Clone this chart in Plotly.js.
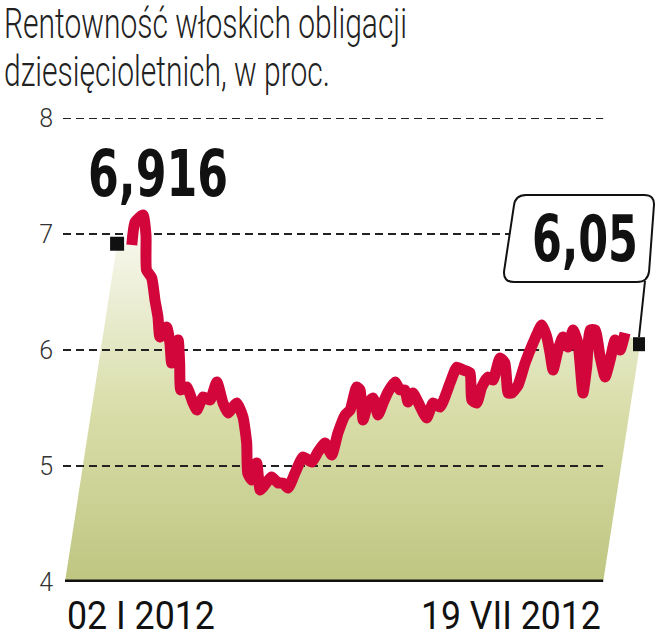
<!DOCTYPE html>
<html>
<head>
<meta charset="utf-8">
<script src="https://cdn.plot.ly/plotly-3.0.1.min.js"></script>
<style>html,body{margin:0;padding:0;background:#fff;}#chart{width:658px;height:640px;}</style>
</head>
<body>
<div id="chart"></div>
<script>
// ---- data (days since 02 I 2012, yield in %) ----
const tradingDay = [0.3,1.6,4.8,6.0,6.2,8.3,9.6,10.8,11.6,14.3,15.6,16.3,18.9,19.5,20.0,22.3,24.9,26.4,28.9,31.7,34.4,36.9,38.9,42.4,44.9,46.4,46.8,48.4,50.4,51.8,53.0,56.4,59.0,61.0,63.0,65.8,69.0,72.5,75.0,77.8,80.5,83.0,85.9,87.9,90.5,91.9,93.1,95.1,97.1,99.1,101.1,103.1,105.9,107.9,109.9,111.1,113.1,115.1,118.6,121.2,124.0,128.0,130.7,133.2,136.0,136.7,138.7,140.7,143.2,145.2,148.0,150.0,151.3,152.7,155.3,158.1,161.3,164.8,166.8,168.1,169.3,171.3,173.3,175.3,177.3,179.3,181.3,182.8,184.2,186.2,188.2,190.2,192.2,194.2,196.2,198.2];
const yieldPct = [6.905,7.103,7.164,6.99,6.69,6.621,6.431,6.284,6.112,6.198,6.060,5.888,6.086,5.888,5.655,5.681,5.543,5.483,5.595,5.569,5.724,5.543,5.457,5.543,5.422,5.198,4.940,4.879,5.026,4.793,4.819,4.905,4.853,4.853,4.810,4.940,5.078,5.034,5.121,5.198,5.095,5.284,5.440,5.483,5.681,5.655,5.397,5.543,5.586,5.440,5.543,5.638,5.724,5.655,5.655,5.552,5.629,5.552,5.414,5.543,5.509,5.716,5.853,5.828,5.802,5.569,5.543,5.681,5.767,5.741,5.931,5.888,5.629,5.629,5.698,5.888,6.060,6.216,6.112,5.974,5.828,6.000,6.112,6.026,6.172,6.060,5.629,5.853,6.172,6.172,5.940,5.767,5.914,6.086,6.000,6.147];
const markerDay = [-5.6, 204.2];
const markerValue = [6.916, 6.05];
const markerText = ["6,916", "6,05"];
const baseDay = [-26.5, 189.4];      // perspective foot of the area
const yTicks = [4, 5, 6, 7, 8];
const xLabels = ["02 I 2012", "19 VII 2012"];
const titleLines = ["Rentowność włoskich obligacji", "dziesięcioletnich, w proc."];

// ---- layout helpers ----
const W = 658, H = 640, ML = 63, MR = 13, MT = 118, MB = 58;
const PW = W - ML - MR, PH = H - MT - MB;
const px = x => (x - ML) / PW;
const py = y => (H - MB - y) / PH;
const LIGHT = "Roboto, Lato, 'Open Sans', sans-serif";
const BOLD = "'DejaVu Sans Condensed', 'DejaVu Sans', sans-serif";

// area polygon
const areaX = [markerDay[0]].concat(tradingDay, [markerDay[1], baseDay[1], baseDay[0]]);
const areaY = [markerValue[0]].concat(yieldPct, [markerValue[1], yTicks[0], yTicks[0]]);

// grid lines
const gridX = [], gridY = [];
yTicks.slice(1).forEach(v => { gridX.push(-27.3, baseDay[1], null); gridY.push(v, v, null); });

const traces = [
  {x: areaX, y: areaY, type: 'scatter', mode: 'lines', fill: 'toself',
   line: {width: 0, color: 'rgba(0,0,0,0)'},
   fillgradient: {type: 'vertical', start: 4, stop: 7.2,
     colorscale: [[0, '#bec681'], [0.45, '#d8dda8'], [0.8, '#eef0da'], [1, '#fbfbf5']]},
   hoverinfo: 'skip', showlegend: false},
  {x: gridX, y: gridY, type: 'scatter', mode: 'lines',
   line: {color: '#222', width: 2, dash: '8px,5px'}, hoverinfo: 'skip', showlegend: false},
  {x: baseDay, y: [yTicks[0], yTicks[0]], type: 'scatter', mode: 'lines',
   line: {color: '#111', width: 5}, hoverinfo: 'skip', showlegend: false},
  {x: tradingDay, y: yieldPct, type: 'scatter', mode: 'lines',
   line: {color: '#d3063c', width: 11, shape: 'spline', smoothing: 0.5}, showlegend: false},
  {x: markerDay, y: markerValue, type: 'scatter', mode: 'markers',
   marker: {symbol: 'square', size: 14, color: '#111'}, showlegend: false}
];

// callout box (rounded, slanted)
function boxPath(pts, r) {
  const P = (x, y) => px(x) + ',' + py(y);
  const [tl, tr, br, bl] = pts;
  return 'M' + P(tl[0] + r, tl[1]) + ' L' + P(tr[0] - r, tr[1]) +
    ' Q' + P(tr[0], tr[1]) + ' ' + P(tr[0] - 0.1 * r, tr[1] + r) +
    ' L' + P(br[0] + 0.1 * r, br[1] - r) +
    ' Q' + P(br[0], br[1]) + ' ' + P(br[0] - r, br[1]) +
    ' L' + P(bl[0] + r, bl[1]) +
    ' Q' + P(bl[0], bl[1]) + ' ' + P(bl[0] + 0.1 * r, bl[1] - r) +
    ' L' + P(tl[0] - 0.1 * r, tl[1] + r) +
    ' Q' + P(tl[0], tl[1]) + ' ' + P(tl[0] + r, tl[1]) + ' Z';
}

// annotations, with target widths (px) for condensing
const annos = [
  {text: titleLines[0], xref: 'paper', yref: 'paper', x: px(2), y: py(23.5),
   xanchor: 'left', yanchor: 'middle', showarrow: false,
   font: {family: LIGHT, size: 42, weight: 300, color: '#222'}, _w: 403},
  {text: titleLines[1], xref: 'paper', yref: 'paper', x: px(2), y: py(71.5),
   xanchor: 'left', yanchor: 'middle', showarrow: false,
   font: {family: LIGHT, size: 42, weight: 300, color: '#222'}, _w: 326},
  {text: '<b>' + markerText[0] + '</b>', xref: 'paper', yref: 'paper', x: px(158), y: py(174),
   xanchor: 'center', yanchor: 'middle', showarrow: false,
   font: {family: BOLD, size: 64, color: '#111'}, _w: 140},
  {text: '<b>' + markerText[1] + '</b>', xref: 'paper', yref: 'paper', x: px(585), y: py(239),
   xanchor: 'center', yanchor: 'middle', showarrow: false,
   font: {family: BOLD, size: 64, color: '#111'}, _w: 106},
  {text: xLabels[0], xref: 'x', yref: 'paper', x: baseDay[0], y: py(616),
   xanchor: 'left', yanchor: 'middle', showarrow: false,
   font: {family: LIGHT, size: 39, color: '#111'}, _w: 148},
  {text: xLabels[1], xref: 'x', yref: 'paper', x: baseDay[1], y: py(616),
   xanchor: 'right', yanchor: 'middle', showarrow: false,
   font: {family: LIGHT, size: 39, color: '#111'}, _w: 180}
];
const targetW = annos.map(a => a._w);
annos.forEach(a => delete a._w);

const layout = {
  width: W, height: H,
  margin: {l: ML, r: MR, t: MT, b: MB},
  paper_bgcolor: '#fff', plot_bgcolor: 'rgba(0,0,0,0)',
  xaxis: {range: [-27.3, 206.2], showgrid: false, zeroline: false, showline: false,
    showticklabels: false, ticks: '', fixedrange: true},
  yaxis: {range: [4, 8], tickvals: yTicks, ticktext: yTicks.map(String),
    showgrid: false, zeroline: false, showline: false, ticks: '',
    ticklabelstandoff: 9, tickfont: {family: LIGHT, size: 25, weight: 300, color: '#333'}, fixedrange: true},
  shapes: [
    {type: 'path', xref: 'paper', yref: 'paper',
     path: boxPath([[515, 195], [655, 195], [648, 282], [503, 282]], 11),
     fillcolor: '#fff', line: {color: '#111', width: 2}, layer: 'above'},
    {type: 'line', xref: 'paper', yref: 'paper', x0: px(645), y0: py(281), x1: px(639), y1: py(337),
     line: {color: '#111', width: 2}, layer: 'above'}
  ],
  annotations: annos
};

Plotly.newPlot('chart', traces, layout, {displayModeBar: false, staticPlot: true}).then(gd => {
  // condense texts horizontally to match the narrow newspaper face
  gd.querySelectorAll('g.annotation').forEach(g => {
    const i = +g.getAttribute('data-index');
    const t = g.querySelector('text.annotation-text');
    if (!t || !targetW[i]) return;
    const bb = t.getBBox();
    const s = targetW[i] / bb.width;
    const anc = annos[i].xanchor;
    const ax = anc === 'left' ? bb.x : anc === 'right' ? bb.x + bb.width : bb.x + bb.width / 2;
    t.setAttribute('transform', `translate(${ax},0) scale(${s},1) translate(${-ax},0)`);
  });
});
</script>
</body>
</html>
